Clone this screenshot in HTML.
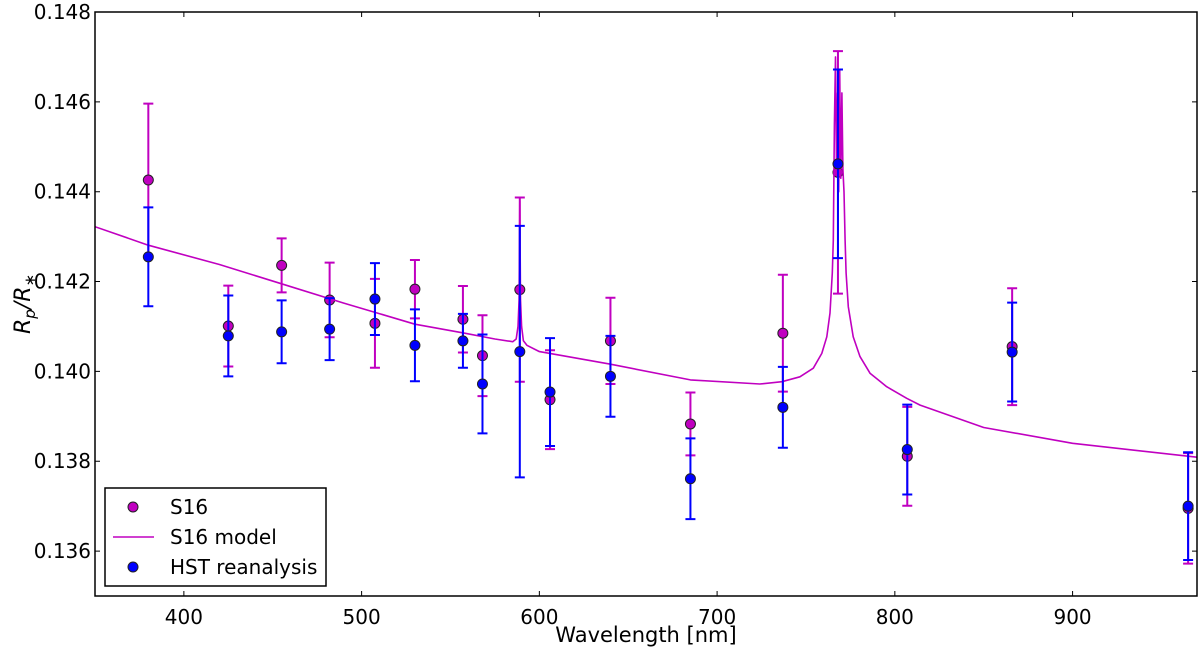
<!DOCTYPE html>
<html><head><meta charset="utf-8"><style>
html,body{margin:0;padding:0;background:#fff;width:1200px;height:653px;overflow:hidden}
svg text{font-family:"DejaVu Sans","Liberation Sans",sans-serif}
</style></head><body>
<svg id="chart" width="1200" height="653" xmlns="http://www.w3.org/2000/svg"></svg>
<script>
const xTicks=[400,500,600,700,800,900];
const yTicks=[0.136,0.138,0.140,0.142,0.144,0.146,0.148];
const yTickLabels=["0.136","0.138","0.140","0.142","0.144","0.146","0.148"];
const wl=[380,425,455,482,507.5,530,557,568,589,606,640,685,737,768,807,866,965];
const s16=[0.14426,0.14101,0.14236,0.14159,0.14107,0.14183,0.14116,0.14035,0.14182,0.13937,0.14068,0.13883,0.14085,0.14443,0.13811,0.14055,0.13695];
const s16Err=[0.0017,0.0009,0.0006,0.00083,0.00099,0.00065,0.00074,0.0009,0.00205,0.0011,0.00096,0.0007,0.0013,0.0027,0.0011,0.0013,0.00123];
const hst=[0.14255,0.14079,0.14088,0.14094,0.14161,0.14058,0.14068,0.13972,0.14044,0.13954,0.13989,0.13761,0.1392,0.14462,0.13826,0.14043,0.137];
const hstErr=[0.0011,0.0009,0.0007,0.00069,0.0008,0.0008,0.0006,0.0011,0.0028,0.0012,0.0009,0.0009,0.0009,0.0021,0.001,0.0011,0.0012];
const modelWl=[350,380,420,455,490,530,558,575,585,587,588,588.6,589,589.4,590,591,593,600,640,685,724,736.5,746.6,754.1,758.9,761.7,763.5,764.8,765.4,766,766.6,767.2,767.8,768.4,769,769.6,770.2,770.8,771.4,772,772.6,773.8,776.6,780.4,786,795.4,806.7,814.2,850,900,970];
const modelVal=[0.14322,0.14281,0.14238,0.14195,0.14152,0.14105,0.14085,0.14072,0.14066,0.14072,0.1410,0.1416,0.1438,0.1416,0.1410,0.14068,0.14058,0.14044,0.14016,0.13981,0.13972,0.13977,0.13988,0.14007,0.1404,0.14077,0.1413,0.14219,0.14292,0.1455,0.1470,0.1445,0.1462,0.1440,0.1467,0.1443,0.1462,0.1445,0.1440,0.14292,0.14219,0.14144,0.14077,0.14033,0.13996,0.13966,0.1394,0.13925,0.13875,0.1384,0.13809];

const L=95,R=1197,T=12,B=596,X0=350,X1=970,Y0=0.135,Y1=0.148;
const sx=v=>L+(v-X0)/(X1-X0)*(R-L);
const sy=v=>B-(v-Y0)/(Y1-Y0)*(B-T);
const svg=document.getElementById('chart');
const NS='http://www.w3.org/2000/svg';
function mk(tag,attrs,parent){const e=document.createElementNS(NS,tag);for(const k in attrs)e.setAttribute(k,attrs[k]);(parent||svg).appendChild(e);return e;}

const plot=mk('g',{});


const cp=mk('clipPath',{id:'clip'});mk('rect',{x:L,y:T,width:R-L,height:B-T},cp);

function errSeries(name,vals,errs,color){
  const g=mk('g',{'clip-path':'url(#clip)'},plot);
  
  
  wl.forEach((w,i)=>{
    const x=sx(w),y1=sy(vals[i]+errs[i]),y2=sy(vals[i]-errs[i]);
    const l=mk('path',{d:`M${x},${y1}V${y2}M${x-5},${y1}H${x+5}M${x-5},${y2}H${x+5}`,stroke:color,'stroke-width':2,fill:'none'},g);
    
    
  });
}
function markers(name,vals,color){
  const g=mk('g',{},plot);
  
  
  wl.forEach((w,i)=>{
    const c=mk('circle',{cx:sx(w),cy:sy(vals[i]),r:5,fill:color,stroke:'#222','stroke-width':1},g);
    
    
  });
}
errSeries('s16',s16,s16Err,'#c000c0');
markers('s16',s16,'#c000c0');
const mp=mk('path',{d:modelWl.map((w,i)=>(i?'L':'M')+sx(w).toFixed(1)+','+sy(modelVal[i]).toFixed(1)).join(''),stroke:'#c000c0','stroke-width':1.6,fill:'none','stroke-linejoin':'round','clip-path':'url(#clip)'},plot);


errSeries('hst',hst,hstErr,'#0000ff');
markers('hst',hst,'#0000ff');

const frame=mk('rect',{x:L,y:T,width:R-L,height:B-T,fill:'none',stroke:'#000','stroke-width':1.5});


const xa=mk('g',{});


xTicks.forEach(t=>{
  const x=sx(t);
  mk('path',{d:`M${x},${B}v-5M${x},${T}v5`,stroke:'#000','stroke-width':1},xa);
  const tx=mk('text',{x:x,y:B+28,'text-anchor':'middle','font-size':20,fill:'#000'},xa);
  tx.textContent=t;
  
  
});
const ya=mk('g',{});


yTicks.forEach((t,i)=>{
  const y=sy(t);
  mk('path',{d:`M${L},${y}h5M${R},${y}h-5`,stroke:'#000','stroke-width':1},ya);
  const tx=mk('text',{x:L-4,y:y+7,'text-anchor':'end','font-size':20,fill:'#000'},ya);
  tx.textContent=yTickLabels[i];
  
  
});
</script>
<svg width="1200" height="653" style="position:absolute;left:0;top:0" xmlns="http://www.w3.org/2000/svg">
<text x="646" y="642" text-anchor="middle" font-size="21" font-family="DejaVu Sans, Liberation Sans, sans-serif">Wavelength [nm]</text>
<text transform="translate(30,304) rotate(-90)" text-anchor="middle" font-size="22" font-family="DejaVu Serif, Liberation Serif, serif" font-style="italic">R<tspan font-size="15" dy="5">p</tspan><tspan dy="-5">/R</tspan><tspan font-size="15" dy="5">∗</tspan></text>
<g>
<rect x="105" y="488" width="221" height="98" fill="#fff" stroke="#000" stroke-width="1.5"/>
<circle cx="133" cy="507" r="5" fill="#c000c0" stroke="#222"/>
<text x="170" y="514" font-size="20" font-family="DejaVu Sans, Liberation Sans, sans-serif">S16</text>
<line x1="113" y1="537" x2="154" y2="537" stroke="#c000c0" stroke-width="1.5"/>
<text x="170" y="544" font-size="20" font-family="DejaVu Sans, Liberation Sans, sans-serif">S16 model</text>
<circle cx="133" cy="567" r="5" fill="#0000ff" stroke="#222"/>
<text x="170" y="574" font-size="20" font-family="DejaVu Sans, Liberation Sans, sans-serif">HST reanalysis</text>
</g>
</svg>
</body></html>
